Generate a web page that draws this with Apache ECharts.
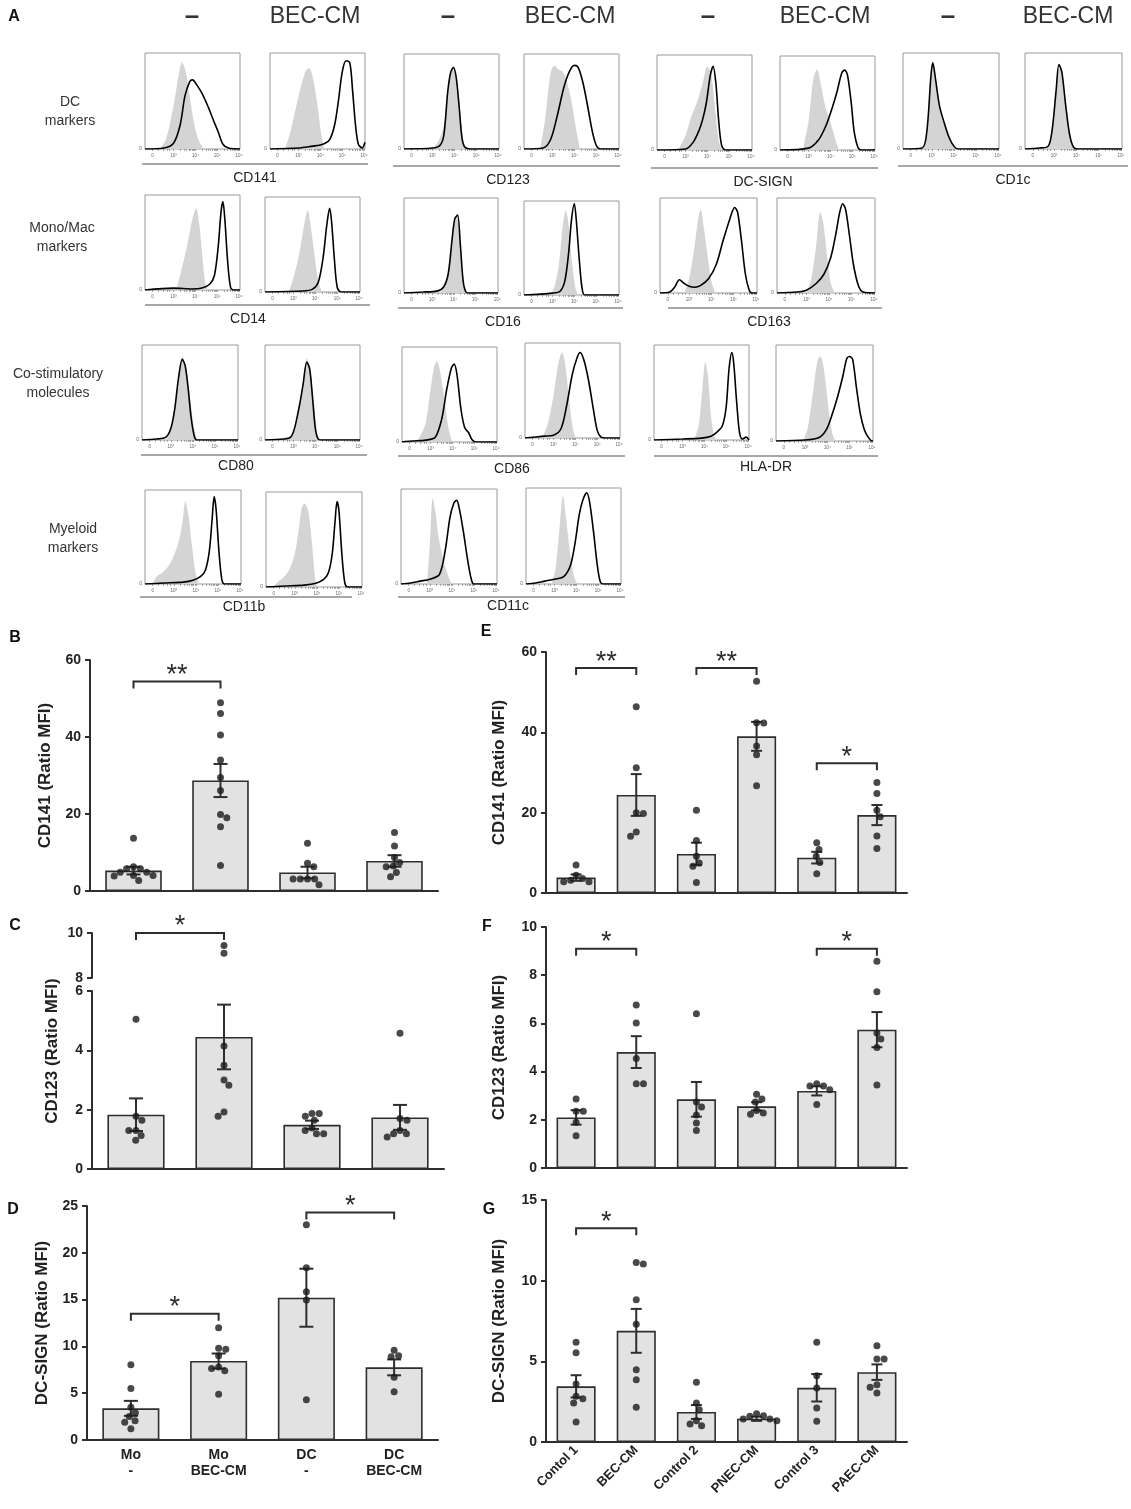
<!DOCTYPE html>
<html>
<head>
<meta charset="utf-8">
<script src="https://cdn.jsdelivr.net/npm/echarts@6/dist/echarts.min.js"></script>
<style>
  html, body { margin: 0; background: #fff; }
  #main { width: 1131px; height: 1509px; }
</style>
</head>
<body>
<div id="main"></div>
<script>
// ---------- Panel A: flow histograms, points are [x in % of box width, height as fraction of box] ----------
// iso = grey filled control, mk = black stained line
const cd141_ctl_iso = [[15,0],[22,.1],[30,.45],[36,.8],[39,.9],[43,.8],[47,.55],[52,.25],[57,.08],[62,0]];
const cd141_ctl_mk = [[0,0],[20,.01],[30,.06],[37,.25],[42,.55],[47,.7],[50,.72],[55,.66],[60,.58],[66,.45],[72,.3],[77,.18],[82,.05],[88,.01],[100,0]];
const cd141_bec_iso = [[16,0],[22,.2],[30,.55],[37,.8],[41,.84],[45,.75],[50,.45],[54,.15],[57,0]];
const cd141_bec_mk = [[0,0],[30,.01],[45,.03],[52,.04],[58,.06],[63,.1],[68,.25],[72,.5],[76,.8],[80,.92],[84,.9],[87,.6],[90,.25],[93,.05],[97,.01],[100,.07]];
const cd123_ctl_iso = [[30,0],[36,.08],[42,.25],[47,.65],[52,.86],[56,.7],[60,.3],[63,.05],[66,0]];
const cd123_ctl_mk = [[0,0],[30,.01],[38,.04],[42,.15],[46,.6],[49,.8],[52,.86],[55,.75],[58,.45],[61,.12],[64,.02],[70,0],[100,0]];
const cd123_bec_iso = [[17,0],[22,.3],[28,.8],[32,.88],[36,.84],[40,.82],[44,.75],[50,.5],[55,.2],[59,0]];
const cd123_bec_mk = [[0,0],[20,.01],[28,.1],[35,.35],[42,.65],[48,.82],[53,.88],[57,.86],[62,.7],[67,.45],[72,.18],[76,.04],[80,0],[100,0]];
const dcsign_ctl_iso = [[22,0],[30,.15],[36,.35],[42,.5],[48,.7],[53,.88],[57,.8],[61,.45],[65,.1],[68,0]];
const dcsign_ctl_mk = [[0,0],[30,.01],[38,.08],[44,.2],[48,.32],[52,.5],[56,.78],[59,.88],[62,.7],[65,.3],[68,.05],[72,0],[100,0]];
const dcsign_bec_iso = [[24,0],[30,.3],[35,.75],[39,.86],[43,.7],[48,.45],[53,.3],[58,.12],[62,0]];
const dcsign_bec_mk = [[0,0],[30,.02],[40,.1],[48,.25],[55,.45],[60,.62],[65,.82],[68,.85],[71,.8],[75,.5],[78,.2],[82,.03],[86,0],[100,0]];
const cd1c_ctl_iso = [[22,0],[26,.3],[29,.75],[31,.88],[34,.7],[38,.42],[43,.25],[48,.12],[53,.03],[56,0]];
const cd1c_ctl_mk = [[0,0],[20,.01],[25,.2],[29,.75],[31,.9],[34,.72],[38,.45],[43,.27],[48,.12],[53,.03],[57,0],[100,0]];
const cd1c_bec_iso = [[24,0],[28,.2],[32,.6],[36,.85],[39,.75],[42,.45],[46,.18],[50,.03],[53,0]];
const cd1c_bec_mk = [[0,0],[15,.01],[24,.03],[28,.2],[32,.6],[35,.88],[38,.8],[42,.45],[46,.15],[50,.02],[55,0],[100,0]];

const cd14_ctl_iso = [[33,0],[38,.2],[44,.45],[50,.75],[54,.86],[57,.7],[60,.4],[63,.1],[66,0]];
const cd14_ctl_mk = [[0,0],[30,.02],[50,.01],[60,.02],[68,.06],[73,.15],[77,.45],[80,.82],[82,.93],[84,.75],[87,.3],[90,.03],[93,0],[100,0]];
const cd14_bec_iso = [[25,0],[30,.15],[36,.4],[42,.75],[45,.86],[48,.7],[52,.4],[56,.12],[60,0]];
const cd14_bec_mk = [[0,0],[40,.01],[50,.03],[56,.1],[61,.35],[65,.7],[68,.88],[70,.75],[73,.35],[76,.05],[80,0],[100,0]];
const cd16_ctl_iso = [[38,0],[44,.1],[49,.35],[53,.7],[56,.82],[59,.6],[62,.2],[65,.02],[67,0]];
const cd16_ctl_mk = [[0,0],[20,.01],[35,.02],[42,.06],[47,.2],[51,.55],[54,.78],[57,.82],[60,.5],[63,.12],[66,.01],[70,0],[100,0]];
const cd16_bec_iso = [[28,0],[33,.12],[37,.35],[41,.75],[44,.9],[47,.75],[50,.4],[54,.08],[57,0]];
const cd16_bec_mk = [[0,0],[30,.02],[38,.04],[43,.15],[47,.45],[50,.8],[53,.97],[55,.8],[58,.4],[61,.08],[64,0],[100,0]];
const cd163_ctl_iso = [[25,0],[30,.15],[35,.45],[40,.82],[42,.88],[45,.7],[49,.4],[53,.12],[57,0]];
const cd163_ctl_mk = [[0,0],[10,.01],[15,.06],[20,.14],[25,.1],[30,.07],[36,.06],[42,.08],[50,.15],[58,.3],[65,.55],[72,.78],[77,.9],[80,.85],[84,.55],[88,.2],[92,.03],[95,0],[100,0]];
const cd163_bec_iso = [[30,0],[35,.15],[40,.5],[44,.85],[47,.75],[51,.4],[55,.1],[59,0]];
const cd163_bec_mk = [[0,0],[20,.01],[30,.03],[40,.1],[48,.2],[55,.38],[60,.62],[64,.85],[67,.94],[70,.88],[74,.6],[78,.3],[83,.08],[88,.01],[100,0]];

const cd80_ctl_iso = [[25,0],[30,.1],[34,.3],[38,.65],[42,.88],[46,.75],[50,.45],[54,.15],[57,.02],[60,0]];
const cd80_ctl_mk = [[0,0],[15,.01],[25,.03],[30,.12],[34,.32],[38,.65],[42,.85],[45,.78],[48,.55],[51,.25],[54,.06],[57,0],[100,0]];
const cd80_bec_iso = [[26,0],[30,.08],[35,.3],[40,.6],[44,.86],[48,.7],[52,.35],[55,.08],[58,0]];
const cd80_bec_mk = [[0,0],[20,.01],[27,.03],[31,.12],[36,.35],[40,.58],[44,.82],[47,.75],[50,.45],[53,.12],[56,.01],[60,0],[100,0]];
const cd86_ctl_iso = [[15,0],[20,.08],[25,.2],[30,.55],[34,.8],[37,.85],[40,.75],[44,.5],[48,.2],[52,.02],[54,0]];
const cd86_ctl_mk = [[0,0],[10,.01],[25,.02],[35,.05],[42,.25],[47,.55],[52,.78],[55,.82],[58,.7],[62,.35],[66,.15],[70,.1],[74,.02],[78,0],[100,0]];
const cd86_bec_iso = [[18,0],[24,.15],[30,.45],[35,.78],[39,.9],[42,.8],[46,.45],[50,.12],[53,0]];
const cd86_bec_mk = [[0,0],[20,.02],[30,.03],[38,.1],[44,.35],[50,.68],[55,.85],[58,.9],[62,.82],[67,.6],[72,.3],[76,.08],[80,.01],[85,0],[100,0]];
const hla_ctl_iso = [[42,0],[47,.15],[51,.55],[54,.82],[57,.65],[60,.25],[63,.05],[66,0]];
const hla_ctl_mk = [[0,0],[30,.01],[50,.02],[60,.04],[66,.08],[72,.15],[76,.35],[79,.75],[82,.92],[84,.8],[87,.4],[90,.08],[93,.01],[97,.03],[100,0]];
const hla_bec_iso = [[28,0],[33,.15],[38,.5],[43,.85],[46,.88],[50,.7],[54,.35],[58,.08],[61,0]];
const hla_bec_mk = [[0,0],[30,.01],[45,.04],[52,.12],[58,.28],[64,.48],[69,.68],[73,.86],[76,.88],[79,.85],[83,.55],[87,.28],[91,.12],[95,.04],[99,0],[100,0]];

const cd11b_ctl_iso = [[8,0],[12,.08],[18,.12],[25,.2],[30,.3],[35,.45],[39,.65],[42,.88],[45,.75],[49,.4],[53,.1],[56,0]];
const cd11b_ctl_mk = [[0,0],[20,.01],[40,.02],[50,.04],[58,.08],[63,.15],[67,.35],[70,.7],[72,.93],[74,.8],[77,.35],[80,.05],[83,0],[100,0]];
const cd11b_bec_iso = [[8,0],[12,.05],[18,.1],[24,.18],[30,.35],[34,.6],[37,.82],[40,.88],[44,.8],[48,.45],[51,.1],[53,0]];
const cd11b_bec_mk = [[0,0],[20,.01],[40,.02],[52,.04],[60,.08],[65,.15],[69,.35],[72,.7],[74,.9],[76,.8],[79,.35],[82,.05],[85,0],[100,0]];
const cd11c_ctl_iso = [[27,0],[30,.4],[33,.9],[36,.75],[39,.5],[43,.3],[47,.15],[51,.04],[54,0]];
const cd11c_ctl_mk = [[0,0],[10,.01],[20,.03],[30,.05],[40,.1],[46,.35],[51,.7],[55,.85],[58,.88],[61,.78],[65,.55],[69,.28],[73,.06],[76,0],[100,0]];
const cd11c_bec_iso = [[27,0],[31,.15],[35,.55],[39,.92],[42,.7],[46,.35],[50,.1],[53,.02],[55,0]];
const cd11c_bec_mk = [[0,0],[10,.01],[20,.03],[30,.05],[40,.08],[47,.2],[52,.45],[56,.72],[60,.88],[64,.95],[67,.85],[71,.55],[75,.2],[78,.03],[81,0],[100,0]];

// histogram x axis labels (biexponential scale)
const decadePos = [8, 30, 53, 76, 99];
const decadeTxt = ['0', '10³', '10⁴', '10⁵', '10⁶'];

// ---------- Panels B–D: monocytes / DC ----------
const catsMoDc = ['Mo\n-', 'Mo\nBEC-CM', 'DC\n-', 'DC\nBEC-CM'];
const bMean = [5.3, 28.7, 4.8, 7.8];
const bSem = [1.0, 4.3, 1.5, 1.5];
const bPts = [
  [13.7, 6.3, 5.8, 5.8, 4.9, 4.9, 4.0, 4.0, 3.9, 2.7],
  [48.9, 46.1, 40.5, 34.0, 29.5, 26.1, 19.9, 19.0, 16.7, 6.6],
  [12.4, 7.2, 6.3, 3.1, 3.1, 3.1, 3.1, 1.6],
  [15.2, 11.7, 8.7, 7.4, 6.5, 6.3, 4.8, 3.7]
];
const bSig = [[0, 1, 54.4, '**']];

const cMean = [1.83, 4.45, 1.49, 1.74];
const cSem = [0.55, 1.09, 0.14, 0.42];
const cPts = [
  [5.05, 1.78, 1.64, 1.3, 1.3, 1.13, 0.97],
  [9.45, 9.1, 4.15, 3.5, 3.0, 2.82, 1.92, 1.78],
  [1.87, 1.87, 1.78, 1.64, 1.38, 1.3, 1.19, 1.19],
  [4.58, 1.7, 1.64, 1.3, 1.19, 1.19, 1.08]
];
const cSig = [[0, 1, 10, '*']];

const dMean = [3.38, 8.44, 15.2, 7.76];
const dSem = [0.8, 0.8, 3.1, 0.85];
const dPts = [
  [8.05, 5.5, 3.5, 2.9, 2.5, 2.05, 1.9, 1.2],
  [12.0, 9.8, 9.7, 9.0, 7.8, 7.65, 7.4, 4.9],
  [23.0, 18.4, 15.85, 14.95, 4.3],
  [9.6, 9.0, 8.9, 6.7, 5.15]
];
const dSig = [[0, 1, 13.5, '*'], [2, 3, 24.3, '*']];

// ---------- Panels E–G: endothelial conditioned media ----------
const catsEc = ['Contol 1', 'BEC-CM', 'Control 2', 'PNEC-CM', 'Control 3', 'PAEC-CM'];
const eMean = [3.83, 24.4, 9.73, 39.0, 8.8, 19.4];
const eSem = [0.8, 5.2, 2.8, 3.6, 1.45, 2.5];
const ePts = [
  [7.0, 4.4, 3.6, 3.2, 2.8, 2.8],
  [46.4, 31.2, 20.0, 19.8, 15.2, 14.1],
  [20.6, 13.1, 9.15, 7.5, 6.65, 2.6],
  [52.7, 42.4, 42.3, 36.6, 34.4, 26.7],
  [12.5, 10.8, 9.15, 7.6, 4.8],
  [27.5, 24.8, 20.6, 19.0, 14.2, 11.1]
];
const eSig = [[0, 1, 56, '**'], [2, 3, 56, '**'], [4, 5, 32.3, '*']];

const fMean = [2.1, 4.81, 2.85, 2.56, 3.2, 5.74];
const fSem = [0.3, 0.66, 0.72, 0.17, 0.19, 0.73];
const fPts = [
  [2.86, 2.35, 2.35, 1.9, 1.34],
  [6.76, 6.02, 4.54, 3.5, 3.5],
  [6.4, 2.74, 2.53, 2.2, 1.87, 1.56],
  [3.06, 2.86, 2.74, 2.39, 2.28, 2.23],
  [3.5, 3.4, 3.4, 3.25, 2.64],
  [8.58, 7.31, 5.6, 5.35, 5.0, 3.44]
];
const fSig = [[0, 1, 9.1, '*'], [4, 5, 9.1, '*']];

const gMean = [3.45, 6.89, 1.86, 1.44, 3.36, 4.33];
const gSem = [0.69, 1.36, 0.43, 0.13, 0.85, 0.48];
const gPts = [
  [6.19, 5.53, 3.59, 2.83, 2.68, 2.41, 1.24],
  [11.12, 11.04, 8.81, 7.3, 4.48, 3.86, 2.15],
  [3.71, 2.41, 2.0, 1.32, 1.11, 1.01],
  [1.75, 1.63, 1.59, 1.42, 1.42, 1.32],
  [6.19, 4.1, 3.34, 2.1, 1.28],
  [5.96, 5.14, 5.14, 3.55, 3.4, 3.03]
];
const gSig = [[0, 1, 13.25, '*']];

// ---------- styling ----------
const FONT = "'Liberation Sans', Arial, Helvetica, sans-serif";
const ink = '#2e2e2e';

const grids = [], xAxes = [], yAxes = [], series = [], graphics = [];

// histogram boxes: [left, top, width, height]
const hists = [
  {box: [145, 53, 95, 96], iso: cd141_ctl_iso, mk: cd141_ctl_mk},
  {box: [270, 53, 95, 96], iso: cd141_bec_iso, mk: cd141_bec_mk},
  {box: [404, 54, 95, 95], iso: cd123_ctl_iso, mk: cd123_ctl_mk},
  {box: [524, 54, 95, 95], iso: cd123_bec_iso, mk: cd123_bec_mk},
  {box: [657, 55, 95, 95], iso: dcsign_ctl_iso, mk: dcsign_ctl_mk},
  {box: [780, 56, 95, 94], iso: dcsign_bec_iso, mk: dcsign_bec_mk},
  {box: [903, 53, 96, 96], iso: cd1c_ctl_iso, mk: cd1c_ctl_mk},
  {box: [1025, 53, 97, 96], iso: cd1c_bec_iso, mk: cd1c_bec_mk},

  {box: [145, 195, 95, 95], iso: cd14_ctl_iso, mk: cd14_ctl_mk},
  {box: [265, 197, 95, 95], iso: cd14_bec_iso, mk: cd14_bec_mk},
  {box: [404, 198, 94, 95], iso: cd16_ctl_iso, mk: cd16_ctl_mk},
  {box: [524, 201, 95, 94], iso: cd16_bec_iso, mk: cd16_bec_mk},
  {box: [660, 198, 97, 95], iso: cd163_ctl_iso, mk: cd163_ctl_mk},
  {box: [777, 198, 98, 95], iso: cd163_bec_iso, mk: cd163_bec_mk},

  {box: [142, 345, 96, 95], iso: cd80_ctl_iso, mk: cd80_ctl_mk},
  {box: [265, 345, 95, 95], iso: cd80_bec_iso, mk: cd80_bec_mk},
  {box: [402, 347, 95, 95], iso: cd86_ctl_iso, mk: cd86_ctl_mk},
  {box: [525, 343, 95, 95], iso: cd86_bec_iso, mk: cd86_bec_mk},
  {box: [654, 345, 95, 95], iso: hla_ctl_iso, mk: hla_ctl_mk},
  {box: [776, 345, 97, 96], iso: hla_bec_iso, mk: hla_bec_mk},

  {box: [145, 490, 96, 94], iso: cd11b_ctl_iso, mk: cd11b_ctl_mk},
  {box: [266, 492, 96, 95], iso: cd11b_bec_iso, mk: cd11b_bec_mk},
  {box: [401, 489, 96, 95], iso: cd11c_ctl_iso, mk: cd11c_ctl_mk},
  {box: [526, 488, 95, 96], iso: cd11c_bec_iso, mk: cd11c_bec_mk}
];

// minor ticks of the log decades
const histTicks = decadePos.slice();
for (let d = 1; d < 4; d++) {
  for (let k = 2; k < 10; k++) histTicks.push(decadePos[d] + (decadePos[d + 1] - decadePos[d]) * Math.log10(k));
}
[14, 19, 23, 26].forEach(v => histTicks.push(v));

hists.forEach(h => {
  const gi = grids.length;
  grids.push({left: h.box[0], top: h.box[1], width: h.box[2], height: h.box[3],
    show: true, borderColor: '#9a9a9a', borderWidth: 1, backgroundColor: 'transparent'});
  xAxes.push({
    type: 'value', gridIndex: gi, min: 0, max: 100,
    axisLine: {show: false, onZero: false},
    axisTick: {show: true, customValues: histTicks, length: 2, lineStyle: {color: '#777', width: 0.6}},
    axisLabel: {customValues: decadePos, formatter: v => decadeTxt[decadePos.indexOf(v)],
      fontSize: 4.5, color: '#666', margin: 4, fontFamily: FONT},
    splitLine: {show: false}
  });
  yAxes.push({
    type: 'value', gridIndex: gi, min: 0, max: 1,
    axisLine: {show: false, onZero: false}, axisTick: {show: false}, splitLine: {show: false},
    axisLabel: {customValues: [0], formatter: () => '0', fontSize: 5, color: '#666', margin: 3, fontFamily: FONT}
  });
  series.push({
    type: 'line', xAxisIndex: gi, yAxisIndex: gi, data: h.iso, smooth: 0.3,
    showSymbol: false, lineStyle: {width: 0, opacity: 0},
    areaStyle: {color: '#d4d4d4', opacity: 1}, silent: true, z: 2
  });
  series.push({
    type: 'line', xAxisIndex: gi, yAxisIndex: gi, data: h.mk, smooth: 0.3,
    showSymbol: false, lineStyle: {color: '#000', width: 1.6}, silent: true, z: 3
  });
});

// marker captions under each pair of histograms
const markerLabels = [
  {text: 'CD141', x1: 142, x2: 368, y: 164, tx: 255, ty: 178},
  {text: 'CD123', x1: 393, x2: 620, y: 166, tx: 508, ty: 180},
  {text: 'DC-SIGN', x1: 651, x2: 878, y: 168, tx: 763, ty: 182},
  {text: 'CD1c', x1: 898, x2: 1128, y: 166, tx: 1013, ty: 180},
  {text: 'CD14', x1: 145, x2: 370, y: 305, tx: 248, ty: 319},
  {text: 'CD16', x1: 398, x2: 623, y: 308, tx: 503, ty: 322},
  {text: 'CD163', x1: 668, x2: 882, y: 308, tx: 769, ty: 322},
  {text: 'CD80', x1: 141, x2: 367, y: 455, tx: 236, ty: 466},
  {text: 'CD86', x1: 398, x2: 625, y: 456, tx: 512, ty: 469},
  {text: 'HLA-DR', x1: 654, x2: 878, y: 456, tx: 766, ty: 467},
  {text: 'CD11b', x1: 140, x2: 352, y: 597, tx: 244, ty: 607},
  {text: 'CD11c', x1: 398, x2: 625, y: 597, tx: 508, ty: 606}
];
markerLabels.forEach(m => {
  graphics.push({type: 'line', shape: {x1: m.x1, y1: m.y, x2: m.x2, y2: m.y}, style: {stroke: '#8a8a8a', lineWidth: 1.5}});
  graphics.push({type: 'text', x: m.tx, y: m.ty, style: {text: m.text, fontFamily: FONT, fontSize: 14,
    fill: '#222', align: 'center', verticalAlign: 'middle'}});
});

const rowLabels = [
  {text: 'DC\nmarkers', x: 70, y: 112},
  {text: 'Mono/Mac\nmarkers', x: 62, y: 238},
  {text: 'Co-stimulatory\nmolecules', x: 58, y: 384},
  {text: 'Myeloid\nmarkers', x: 73, y: 539}
];
rowLabels.forEach(r => graphics.push({type: 'text', x: r.x, y: r.y, style: {text: r.text, fontFamily: FONT,
  fontSize: 14, lineHeight: 19, fill: '#333', align: 'center', verticalAlign: 'middle'}}));

const headers = [['–', 192], ['BEC-CM', 315], ['–', 448], ['BEC-CM', 570], ['–', 708], ['BEC-CM', 825], ['–', 948], ['BEC-CM', 1068]];
headers.forEach(([t, x]) => graphics.push({type: 'text', x: x, y: 17, style: {text: t, fontFamily: FONT,
  fontSize: t === '–' ? 26 : 23, fontWeight: t === '–' ? 'bold' : 'normal', fill: '#333', align: 'center', verticalAlign: 'middle'}}));

const panelLetters = [['A', 14, 17], ['B', 15, 638], ['C', 15, 926], ['D', 13, 1210], ['E', 486, 632], ['F', 487, 927], ['G', 489, 1210]];
panelLetters.forEach(([t, x, y]) => graphics.push({type: 'text', x: x, y: y, style: {text: t, fontFamily: FONT,
  fontSize: 16, fontWeight: 'bold', fill: '#111', align: 'center', verticalAlign: 'middle'}}));

// beeswarm-style horizontal spread of dots (pixel space), returns offsets in category units
function swarm(vals, pxPerUnit, catPx, dia) {
  const placed = [];
  const out = new Array(vals.length);
  const order = vals.map((v, i) => i).sort((a, b) => vals[b] - vals[a]);
  let flip = 1;
  order.forEach(i => {
    const y = vals[i] * pxPerUnit;
    const cands = [0];
    placed.forEach(p => {
      const dy = Math.abs(p.y - y);
      if (dy < dia) {
        const w = Math.sqrt(dia * dia - dy * dy);
        cands.push(p.x + w, p.x - w);
      }
    });
    const ok = cands.filter(x => placed.every(p => (p.x - x) ** 2 + (p.y - y) ** 2 >= dia * dia - 0.01));
    ok.sort((a, b) => (Math.abs(a) - Math.abs(b)) || flip * (b - a));
    const x = ok[0];
    if (x !== 0) flip = -flip;
    placed.push({x, y});
    out[i] = x / catPx;
  });
  return out;
}

function addBarPanel(p) {
  const n = p.cats.length;
  const gi = grids.length;
  grids.push({left: p.box[0], top: p.box[1], width: p.box[2], height: p.box[3]});
  const xc = xAxes.length;
  xAxes.push({
    type: 'category', gridIndex: gi, data: p.cats, show: p.showX !== false,
    axisLine: {onZero: false, lineStyle: {color: ink, width: 2}},
    axisTick: {alignWithLabel: true, length: 4, lineStyle: {color: ink, width: 1.5}},
    axisLabel: Object.assign({show: false, interval: 0, fontFamily: FONT, fontWeight: 'bold',
      fontSize: 14, color: '#222'}, p.xLabel || {})
  });
  const xv = xAxes.length;
  xAxes.push({type: 'value', gridIndex: gi, min: -0.5, max: n - 0.5, show: false, axisLine: {onZero: false}});
  const yi = yAxes.length;
  yAxes.push({
    type: 'value', gridIndex: gi, min: p.min, max: p.max, interval: p.step,
    name: p.name || '', nameLocation: 'middle', nameGap: p.nameGap || 0,
    nameTextStyle: {fontFamily: FONT, fontWeight: 'bold', fontSize: 17, color: '#222'},
    axisLine: {show: true, onZero: false, lineStyle: {color: ink, width: 2}},
    axisTick: {show: true, length: 5, lineStyle: {color: ink, width: 2}},
    axisLabel: {fontFamily: FONT, fontWeight: 'bold', fontSize: 14, color: '#222', margin: 9},
    splitLine: {show: false}
  });
  if (p.mean) {
    series.push({type: 'bar', xAxisIndex: xc, yAxisIndex: yi, data: p.mean, barWidth: '65%', silent: true, z: 2,
      itemStyle: {color: '#e2e2e2', borderColor: ink, borderWidth: 1.6}});
  }
  if (p.sem) {
    const cap = p.cap;
    series.push({
      type: 'custom', xAxisIndex: xv, yAxisIndex: yi, silent: true, z: 4,
      data: p.mean.map((m, i) => [i, m, p.sem[i]]),
      renderItem: (params, api) => {
        const i = api.value(0), m = api.value(1), s = api.value(2);
        const top = api.coord([i, m + s]), bot = api.coord([i, m - s]);
        const st = {stroke: ink, lineWidth: 2};
        return {type: 'group', children: [
          {type: 'line', shape: {x1: top[0], y1: top[1], x2: bot[0], y2: bot[1]}, style: st},
          {type: 'line', shape: {x1: top[0] - cap, y1: top[1], x2: top[0] + cap, y2: top[1]}, style: st},
          {type: 'line', shape: {x1: bot[0] - cap, y1: bot[1], x2: bot[0] + cap, y2: bot[1]}, style: st}
        ]};
      }
    });
  }
  // dots
  const pxPerUnit = p.box[3] / (p.max - p.min);
  const catPx = p.box[2] / n;
  const dots = [];
  p.pts.forEach((vals, i) => {
    const inRange = vals.filter(v => v >= p.min && v <= p.max);
    const offs = swarm(inRange, pxPerUnit, catPx, 7.2);
    inRange.forEach((v, k) => dots.push([i + offs[k], v]));
  });
  series.push({type: 'scatter', xAxisIndex: xv, yAxisIndex: yi, data: dots, symbolSize: 7,
    itemStyle: {color: '#1c1c1c'}, silent: true, z: 5});
  // significance brackets
  if (p.sig) {
    series.push({
      type: 'custom', xAxisIndex: xv, yAxisIndex: yi, silent: true, z: 6,
      data: p.sig.map(s => [s[0], s[2]]),
      renderItem: (params, api) => {
        const s = p.sig[params.dataIndex];
        const a = api.coord([s[0], s[2]]), b = api.coord([s[1], s[2]]);
        const drop = 7;
        return {type: 'group', children: [
          {type: 'polyline', shape: {points: [[a[0], a[1] + drop], [a[0], a[1]], [b[0], b[1]], [b[0], b[1] + drop]]},
            style: {stroke: ink, lineWidth: 2, fill: null}},
          {type: 'text', x: (a[0] + b[0]) / 2, y: a[1] - 6,
            style: {text: s[3], fontFamily: FONT, fontSize: 27, fill: ink, align: 'center', verticalAlign: 'middle'}}
        ]};
      }
    });
  }
}

addBarPanel({box: [90, 660, 348, 231], cats: catsMoDc, min: 0, max: 60, step: 20, mean: bMean, sem: bSem,
  pts: bPts, sig: bSig, cap: 7, name: 'CD141 (Ratio MFI)', nameGap: 36});
addBarPanel({box: [92, 991, 352, 178], cats: catsMoDc, min: 0, max: 6, step: 2, mean: cMean, sem: cSem,
  pts: cPts, cap: 7});
addBarPanel({box: [92, 933, 352, 45], cats: catsMoDc, min: 8, max: 10, step: 2, showX: false,
  pts: cPts, sig: cSig});
addBarPanel({box: [87, 1206, 351, 234], cats: catsMoDc, min: 0, max: 25, step: 5, mean: dMean, sem: dSem,
  pts: dPts, sig: dSig, cap: 7, name: 'DC-SIGN (Ratio MFI)', nameGap: 36,
  xLabel: {show: true, lineHeight: 16, margin: 7}});
addBarPanel({box: [546, 652, 361, 241], cats: catsEc, min: 0, max: 60, step: 20, mean: eMean, sem: eSem,
  pts: ePts, sig: eSig, cap: 5.5, name: 'CD141 (Ratio MFI)', nameGap: 38});
addBarPanel({box: [546, 927, 361, 241], cats: catsEc, min: 0, max: 10, step: 2, mean: fMean, sem: fSem,
  pts: fPts, sig: fSig, cap: 5.5, name: 'CD123 (Ratio MFI)', nameGap: 38});
addBarPanel({box: [546, 1200, 361, 242], cats: catsEc, min: 0, max: 15, step: 5, mean: gMean, sem: gSem,
  pts: gPts, sig: gSig, cap: 5.5, name: 'DC-SIGN (Ratio MFI)', nameGap: 38,
  xLabel: {show: true, rotate: 45, fontSize: 13, margin: 6}});

// y title of the broken-axis panel C
graphics.push({type: 'text', x: 52, y: 1051, rotation: Math.PI / 2, style: {text: 'CD123 (Ratio MFI)',
  fontFamily: FONT, fontWeight: 'bold', fontSize: 17, fill: '#222', align: 'center', verticalAlign: 'middle'}});

const chart = echarts.init(document.getElementById('main'), null, {renderer: 'canvas'});
chart.setOption({
  animation: false,
  backgroundColor: '#fff',
  textStyle: {fontFamily: FONT},
  grid: grids,
  xAxis: xAxes,
  yAxis: yAxes,
  series: series,
  graphic: graphics
});
</script>
</body>
</html>
